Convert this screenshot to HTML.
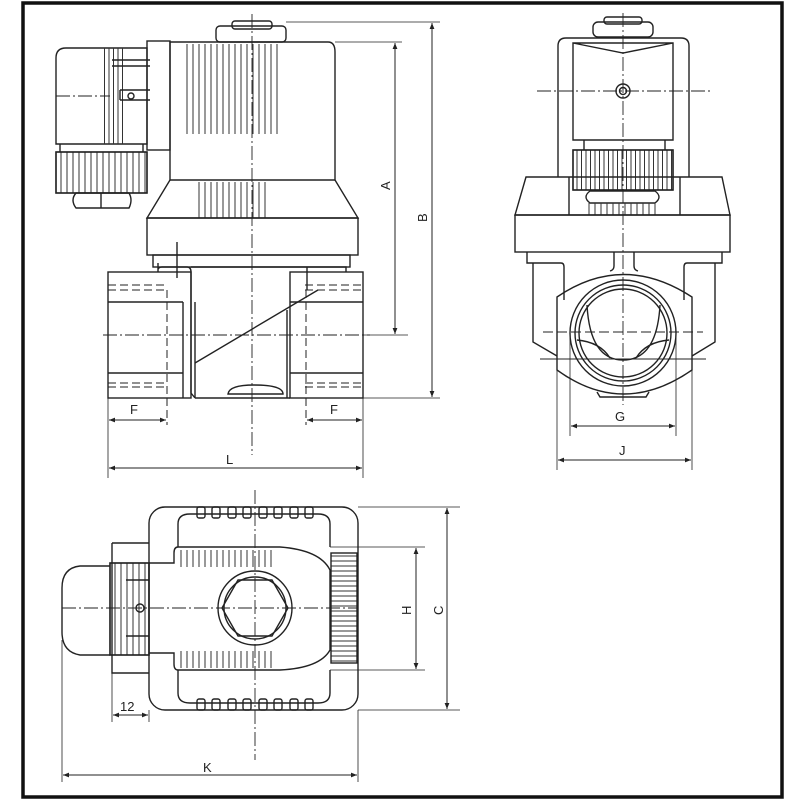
<!DOCTYPE html>
<html><head><meta charset="utf-8"><style>
html,body{margin:0;padding:0;background:#fff;}
svg{display:block;}
text{font-family:"Liberation Sans",sans-serif;font-size:13px;fill:#222;}
</style></head><body>
<svg width="800" height="800" viewBox="0 0 800 800" xmlns="http://www.w3.org/2000/svg">
<defs>
<pattern id="vs" width="6" height="10" patternUnits="userSpaceOnUse"><line x1="1" y1="0" x2="1" y2="10" stroke="#333" stroke-width="1"/></pattern>
<pattern id="vs4" width="4.5" height="10" patternUnits="userSpaceOnUse"><line x1="1" y1="0" x2="1" y2="10" stroke="#333" stroke-width="1"/></pattern>
<pattern id="hs" width="10" height="5" patternUnits="userSpaceOnUse"><line x1="0" y1="1" x2="10" y2="1" stroke="#333" stroke-width="1"/></pattern>
<marker id="a" viewBox="0 0 10 10" refX="10" refY="5" markerWidth="8" markerHeight="6" orient="auto-start-reverse"><path d="M0,1 L10,5 L0,9 z" fill="#222"/></marker>
</defs>
<rect x="23" y="3" width="759" height="794" fill="none" stroke="#111" stroke-width="3.5"/>
<g fill="none" stroke="#222" stroke-width="1.4">
<!-- FRONT VIEW -->
<rect x="216" y="26" width="70" height="16" rx="4"/>
<rect x="232" y="21" width="40" height="8" rx="3"/>
<rect x="147" y="41" width="23" height="109"/>
<path d="M170,42 H328 Q335,42 335,52 V180 H170 Z"/>
<rect x="183" y="44" width="95" height="90" fill="url(#vs)" stroke="none"/>
<rect x="195" y="182" width="75" height="36" fill="url(#vs)" stroke="none"/>
<path d="M66,48 H147 V144 H56 V58 Q56,48 66,48 Z"/>
<rect x="102" y="48" width="24" height="96" fill="url(#vs4)" stroke="none"/>
<line x1="112" y1="60" x2="150" y2="60"/><line x1="112" y1="66" x2="150" y2="66"/>
<line x1="120" y1="90" x2="150" y2="90"/><line x1="120" y1="100" x2="150" y2="100"/><line x1="120" y1="90" x2="120" y2="100"/>
<circle cx="131" cy="96" r="3"/>
<rect x="56" y="152" width="91" height="41" fill="url(#vs)"/>
<rect x="56" y="152" width="91" height="41"/>
<line x1="60" y1="144" x2="60" y2="152"/><line x1="143" y1="144" x2="143" y2="152"/>
<path d="M76,193 H129 Q133,200 129,208 H76 Q70,200 76,193 Z"/><line x1="101" y1="193" x2="101" y2="208"/>
<path d="M170,180 L147,218 H358 L335,180"/>
<rect x="147" y="218" width="211" height="37"/>
<rect x="153" y="255" width="197" height="12"/>
<line x1="177" y1="242" x2="177" y2="278"/>
<rect x="108" y="272" width="83" height="126"/>
<line x1="108" y1="302" x2="183" y2="302"/><line x1="108" y1="373" x2="183" y2="373"/>
<line x1="183" y1="302" x2="183" y2="398"/>
<path d="M158,272 V263 M158,270 Q158,267 162,267 H187 Q191,267 191,272 V393 L195,398" />
<line x1="195" y1="302" x2="195" y2="398"/>
<rect x="290" y="272" width="73" height="126"/>
<line x1="290" y1="302" x2="363" y2="302"/><line x1="290" y1="373" x2="363" y2="373"/>
<path d="M307,267 H346 V272 M307,267 V290"/>
<line x1="318" y1="290" x2="195" y2="363"/>
<line x1="195" y1="398" x2="290" y2="398"/>
<line x1="191" y1="267" x2="307" y2="267"/>
<path d="M228,394 Q229,385 254,385 Q283,385 283,394 Z"/>
<line x1="287" y1="310" x2="287" y2="398"/>
<g stroke-dasharray="8,4" stroke-width="1"><line x1="108" y1="285" x2="165" y2="285"/><line x1="108" y1="290" x2="165" y2="290"/><line x1="108" y1="383" x2="165" y2="383"/><line x1="108" y1="387" x2="165" y2="387"/>
<line x1="305" y1="285" x2="363" y2="285"/><line x1="305" y1="290" x2="363" y2="290"/><line x1="305" y1="383" x2="363" y2="383"/><line x1="305" y1="387" x2="363" y2="387"/>
<line x1="167" y1="290" x2="167" y2="425"/><line x1="306" y1="290" x2="306" y2="425"/></g>
<g stroke-dasharray="14,3,2,3" stroke-width="0.9"><line x1="252" y1="14" x2="252" y2="455"/><line x1="103" y1="335" x2="370" y2="335"/><line x1="56" y1="96" x2="110" y2="96"/></g>
<g stroke-width="0.8"><line x1="286" y1="22" x2="440" y2="22"/><line x1="335" y1="42" x2="402" y2="42"/><line x1="363" y1="335" x2="408" y2="335"/><line x1="363" y1="398" x2="440" y2="398"/>
<line x1="108" y1="398" x2="108" y2="478"/><line x1="363" y1="398" x2="363" y2="478"/></g>
<g stroke-width="1" marker-start="url(#a)" marker-end="url(#a)"><line x1="395" y1="43" x2="395" y2="334"/><line x1="432" y1="23" x2="432" y2="397"/>
<line x1="109" y1="420" x2="166" y2="420"/><line x1="307" y1="420" x2="362" y2="420"/><line x1="109" y1="468" x2="362" y2="468"/></g>
<!-- SIDE VIEW -->
<rect x="593" y="22" width="60" height="15" rx="5"/>
<rect x="604" y="17" width="38" height="7" rx="3"/>
<path d="M558,177 V46 Q558,38 566,38 H681 Q689,38 689,46 V177"/>
<path d="M573,43 H673 V140 H573 Z M573,43 L623,53 L673,43"/>
<circle cx="623" cy="91" r="7"/><circle cx="623" cy="91" r="3.5"/>
<rect x="573" y="150" width="100" height="40" fill="url(#vs4)"/>
<rect x="573" y="150" width="100" height="40"/>
<line x1="584" y1="140" x2="584" y2="150"/><line x1="665" y1="140" x2="665" y2="150"/>
<path d="M590,191 H655 Q663,197 655,203 H590 Q582,197 590,191 Z"/>
<path d="M526,177 H722 L730,215 H515 Z"/>
<rect x="588" y="203" width="70" height="12" fill="url(#vs)" stroke="none"/>
<line x1="569" y1="177" x2="569" y2="215"/><line x1="680" y1="177" x2="680" y2="215"/>
<rect x="515" y="215" width="215" height="37"/>
<path d="M527,252 V263 H561 Q564,263 564,267 V300 M722,252 V263 H687 Q684,263 684,267 V300"/>
<path d="M533,263 V342 L557,356 M715,263 V342 L692,356"/>
<path d="M614,252 V266 Q614,270 610,271 M634,252 V266 Q634,270 638,271"/>
<path d="M557,297 Q623,252 692,297 V370 Q623,418 557,370 Z"/>
<circle cx="623" cy="333" r="53"/><circle cx="623" cy="333" r="48"/><circle cx="623" cy="333" r="44"/>
<path d="M587,305 Q590,360 623,360 Q657,360 660,305"/>
<path d="M577,340 Q600,342 610,358 M669,340 Q646,342 636,358"/>
<path d="M597,392 L600,397 H646 L649,392"/>
<line x1="540" y1="359" x2="706" y2="359" stroke-width="1"/>
<g stroke-dasharray="10,4" stroke-width="1"><line x1="543" y1="332" x2="703" y2="332"/></g>
<g stroke-dasharray="14,3,2,3" stroke-width="0.9"><line x1="623" y1="13" x2="623" y2="405"/><line x1="537" y1="91" x2="710" y2="91"/></g>
<g stroke-width="0.8"><line x1="570" y1="333" x2="570" y2="436"/><line x1="676" y1="333" x2="676" y2="436"/><line x1="557" y1="370" x2="557" y2="470"/><line x1="692" y1="370" x2="692" y2="470"/></g>
<g stroke-width="1" marker-start="url(#a)" marker-end="url(#a)"><line x1="571" y1="426" x2="675" y2="426"/><line x1="558" y1="460" x2="691" y2="460"/></g>
<!-- TOP VIEW -->
<rect x="149" y="507" width="209" height="203" rx="16"/>
<path d="M178,524 Q178,514 190,514 H318 Q330,514 330,524 V547 M178,547 V524 M178,670 V693 Q178,703 190,703 H318 Q330,703 330,693 V670"/>
<g>
<rect x="197" y="507" width="8" height="11" rx="2"/><rect x="212" y="507" width="8" height="11" rx="2"/><rect x="228" y="507" width="8" height="11" rx="2"/><rect x="243" y="507" width="8" height="11" rx="2"/><rect x="259" y="507" width="8" height="11" rx="2"/><rect x="274" y="507" width="8" height="11" rx="2"/><rect x="290" y="507" width="8" height="11" rx="2"/><rect x="305" y="507" width="8" height="11" rx="2"/>
<rect x="197" y="699" width="8" height="11" rx="2"/><rect x="212" y="699" width="8" height="11" rx="2"/><rect x="228" y="699" width="8" height="11" rx="2"/><rect x="243" y="699" width="8" height="11" rx="2"/><rect x="259" y="699" width="8" height="11" rx="2"/><rect x="274" y="699" width="8" height="11" rx="2"/><rect x="290" y="699" width="8" height="11" rx="2"/><rect x="305" y="699" width="8" height="11" rx="2"/>
</g>
<path d="M178,547 H280 Q320,550 330,570 V650 Q320,668 280,670 H178 Q174,670 174,664 V653 H149 M174,553 Q174,547 178,547 M174,553 V563 H149"/>
<rect x="178" y="550" width="95" height="17" fill="url(#vs)" stroke="none"/>
<rect x="178" y="651" width="95" height="17" fill="url(#vs)" stroke="none"/>
<rect x="331" y="553" width="26" height="110" fill="url(#hs)"/>
<circle cx="255" cy="608" r="37"/><circle cx="255" cy="608" r="31"/>
<polygon points="222,608 238,580 272,580 288,608 272,636 238,636"/>
<path d="M112,543 H149 M112,543 V673 H149"/>
<rect x="110" y="563" width="39" height="92" fill="url(#vs)"/>
<rect x="110" y="563" width="39" height="92"/>
<line x1="126" y1="580" x2="149" y2="580"/><line x1="126" y1="636" x2="149" y2="636"/>
<circle cx="140" cy="608" r="4"/>
<path d="M110,566 H80 Q62,568 62,588 V632 Q62,652 80,655 H110"/>
<g stroke-dasharray="14,3,2,3" stroke-width="0.9"><line x1="255" y1="490" x2="255" y2="760"/><line x1="62" y1="608" x2="358" y2="608"/></g>
<g stroke-width="0.8"><line x1="330" y1="547" x2="425" y2="547"/><line x1="330" y1="670" x2="425" y2="670"/><line x1="358" y1="507" x2="460" y2="507"/><line x1="358" y1="710" x2="460" y2="710"/>
<line x1="112" y1="673" x2="112" y2="722"/><line x1="149" y1="710" x2="149" y2="722"/>
<line x1="62" y1="640" x2="62" y2="782"/><line x1="358" y1="710" x2="358" y2="782"/></g>
<g stroke-width="1" marker-start="url(#a)" marker-end="url(#a)"><line x1="416" y1="548" x2="416" y2="669"/><line x1="447" y1="508" x2="447" y2="709"/>
<line x1="113" y1="715" x2="148" y2="715"/><line x1="63" y1="775" x2="357" y2="775"/></g>
</g>
<text x="130" y="414">F</text>
<text x="330" y="414">F</text>
<text x="226" y="464">L</text>
<text x="615" y="421">G</text>
<text x="619" y="455">J</text>
<text x="120" y="711">12</text>
<text x="203" y="772">K</text>
<text transform="translate(390,190) rotate(-90)">A</text>
<text transform="translate(427,222) rotate(-90)">B</text>
<text transform="translate(411,615) rotate(-90)">H</text>
<text transform="translate(443,615) rotate(-90)">C</text>
</svg>
</body></html>
